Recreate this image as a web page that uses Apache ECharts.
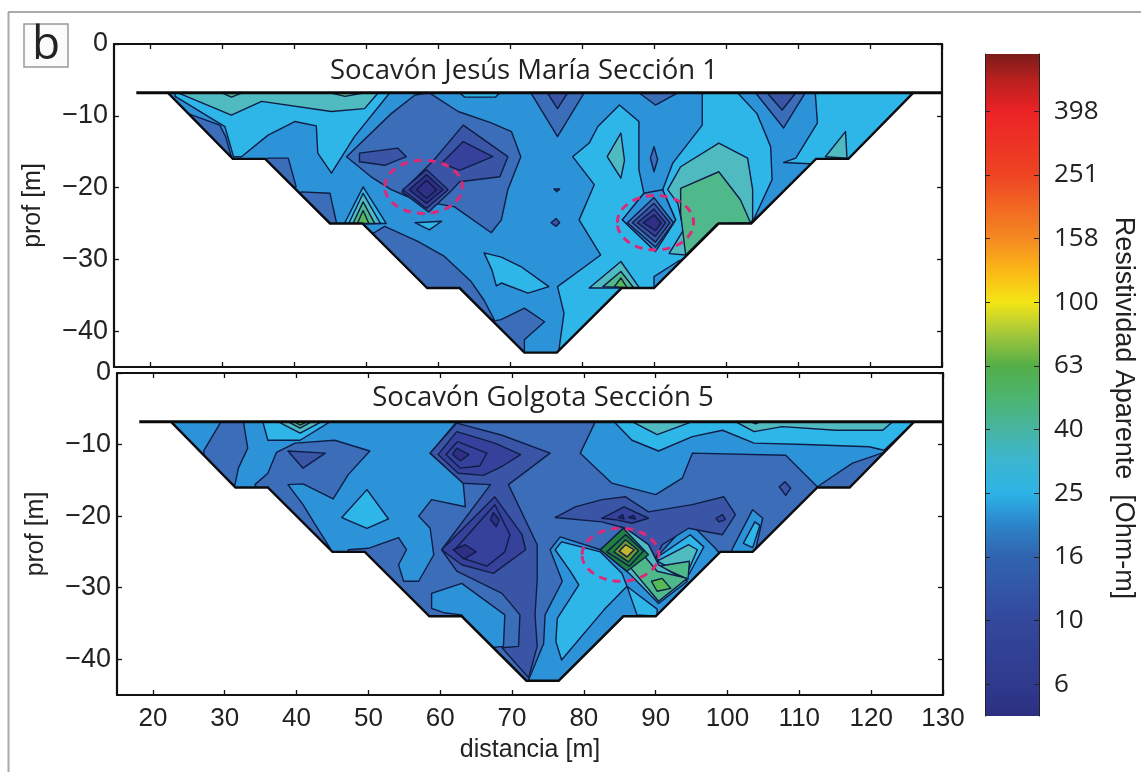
<!DOCTYPE html>
<html><head><meta charset="utf-8">
<style>html,body{margin:0;padding:0;background:#fff}#c{width:1141px;height:772px}</style>
<script src="https://cdn.jsdelivr.net/npm/echarts@6/dist/echarts.min.js"></script>
</head><body><div id="c"></div>
<script>
const distanceTicks=[20,30,40,50,60,70,80,90,100,110,120,130];
const depthTicks=[0,-10,-20,-30,-40];
const colorbarTicks=[6.31,10,15.85,25.12,39.81,63.1,100,158.5,251.2,398.1];
const colorbarLabels=['6','10','16','25','40','63','100','158','251','398'];
const colorbarValues=[5,6.3,10,16,20,25,32,40,50,63,80,100,125,158,251,398,500,603];
const colorbarColors=['#2c2f80','#2f3a8e','#33489c','#3165b0','#2c85c9','#2cb3e6','#3cb6cf','#47b5a0','#4bb570','#53ae48','#a6c83a','#f3e516','#fbb816','#f58a22','#ee4423','#ec2226','#b8201f','#7c1c19'];
const levelColors=['#2e2f85','#35419a','#3a55a6','#3b6db8','#2d93d9','#2fb6e8','#4fbbc0','#50b98c','#56b957','#1f8040','#6f9a2e','#c2b530'];
const surfaceDepth=-6.8;
const profile=[[22.5,-6.8],[31.5,-16],[36,-16],[45,-25],[49.5,-25],[58.5,-34],[63,-34],[72,-43],[76.5,-43],[85.5,-34],[90,-34],[99,-25],[103.5,-25],[112.5,-16],[117,-16],[126,-6.8]];
const section1Anomalies=[[58,-19.9,5.4,3.7],[90.2,-24.9,5.3,3.8]];
const section5Anomalies=[[85.1,-25.4,5.35,3.7]];

const section1Bands=[
[5,[[23.5,-6.8],[53.3,-6.8],[48.4,-12.9],[45.2,-18],[43.3,-15.2],[43.1,-11.4],[40.1,-10.8],[36.4,-12.7],[32.7,-15.7],[31.6,-15.7],[30.4,-11.5],[23.5,-7.3]]],
[3,[[25.3,-9.7],[29.7,-11.3],[30.5,-12.9],[31.3,-15.7],[30,-17],[25,-12]]],
[6,[[23.9,-6.8],[31.3,-9.9],[35.5,-8],[45.2,-9.4],[49.8,-9],[51.7,-6.8]]],
[7,[[30,-6.8],[31.3,-7.4],[32.8,-6.8]]],
[7,[[45,-6.8],[47.1,-7.3],[49.8,-6.8]]],
[3,[[36.4,-15.9],[39.2,-15.9],[40.3,-19.9],[38,-20],[35,-17]]],
[3,[[41,-20.6],[45,-20.8],[45.9,-24.9],[45,-26],[40,-22]]],
[5,[[49.6,-19.9],[52.8,-25],[47,-25]]],
[6,[[49.6,-20.8],[52,-25],[47.6,-25]]],
[7,[[49.6,-22],[51.2,-25],[48.2,-25]]],
[8,[[49.6,-23.2],[50.4,-25],[48.8,-25]]],
[3,[[47.3,-15.7],[53.5,-9.7],[56.8,-7.1],[58.8,-6.8],[62.8,-9.4],[67.4,-11],[70.2,-12.2],[71.5,-15.7],[69.7,-20.3],[68.8,-24.5],[67.4,-26.3],[62.3,-22.7],[56.8,-21.7],[53.5,-20.3],[50.7,-18.5]]],
[2,[[63.5,-11.3],[69.7,-15.7],[68.6,-18.5],[63,-19.2],[61.7,-20.6],[58.7,-23.4],[55,-20.6],[59.4,-16.2]]],
[1,[[63.5,-13.6],[67.6,-15.7],[63,-17.6],[60.5,-16.6]]],
[2,[[49.1,-15.2],[54.4,-14.5],[55.6,-15.7],[52.6,-16.9],[49.1,-16.4]]],
[1,[[55.1,-20.3],[58.4,-17.5],[61.4,-20.3],[58.4,-22.9]]],
[0,[[56,-20.3],[58.4,-18.2],[60.7,-20.3],[58.4,-22.2]]],
[0,[[57,-20.3],[58.4,-19],[59.8,-20.3],[58.4,-21.5]]],
[5,[[56.8,-24.9],[60.5,-24.7],[58.8,-25.9]]],
[3,[[52.6,-25.4],[57.2,-27.5],[60.9,-29.6],[64.6,-33.1],[66.4,-35.7],[67.8,-38.4],[60,-38.4],[45,-30]]],
[5,[[66.4,-29.1],[68.8,-29.7],[71.5,-31],[75.4,-33.8],[72.5,-34.7],[68.8,-33.3],[68.1,-33.7],[67.5,-31.5]]],
[3,[[68.75,-38.4],[72,-36.8],[74.8,-38.7],[72,-41.2],[72,-43.5],[60,-40]]],
[5,[[63,-6.8],[63.7,-7.4],[68,-7.4],[68.6,-6.8]]],
[5,[[96.7,-6.8],[101.6,-6.8],[104.3,-9.7],[106.2,-14.3],[106.4,-18.9],[103.9,-24.3],[95,-36],[85,-44],[76.6,-44],[77.5,-37.5],[76.6,-33.8],[82.6,-29.4],[79.6,-24.5],[81.7,-19.6],[78.7,-15.7],[81,-13.8],[82.2,-11.5],[85.2,-8.5],[87.9,-10.8],[87.9,-17.5],[88.6,-20.8],[85.6,-24.5],[90.2,-28.9],[93,-24.5],[91.2,-20.3],[92.6,-16.6],[96.7,-11.3]]],
[4,[[85.6,-24.5],[88.6,-20.8],[91.2,-20.3],[93,-24.5],[90.2,-28.9]]],
[6,[[91.9,-20.3],[93.7,-17.1],[99,-13.8],[103,-15.9],[103.7,-20.3],[103.7,-24.5],[100,-30],[95,-32],[94.4,-29.4],[92.1,-29.2],[94.1,-25.9],[93.3,-22.2]]],
[7,[[93.7,-20.1],[99,-17.8],[102,-21.7],[103.4,-24.9],[98.8,-25],[94.4,-29.4],[93.7,-23.6]]],
[4,[[90,-34],[90,-32.4],[93.3,-30.3],[94,-30],[95,-33]]],
[3,[[86.3,-24.9],[90,-21.4],[92.7,-24.9],[90.2,-28.3]]],
[2,[[87,-24.9],[90,-22.2],[92.2,-24.9],[90.2,-27.6]]],
[1,[[87.7,-24.9],[90,-23],[91.6,-24.9],[90.2,-26.8]]],
[0,[[88.5,-24.9],[90,-23.8],[91,-24.9],[90.2,-26]]],
[3,[[89.5,-15.9],[90,-14.3],[90.5,-16.1],[90,-17.8]]],
[2,[[76.1,-20.2],[76.9,-20.2],[76.5,-20.6]]],
[2,[[75.7,-24.9],[76.4,-24.3],[76.9,-24.9],[76.4,-25.4]]],
[6,[[83.5,-15.7],[85.4,-12.4],[85.9,-16.2],[85.4,-18.7]]],
[3,[[72.9,-6.8],[76.6,-12.9],[80.3,-6.8]]],
[2,[[75.2,-6.8],[76.6,-9],[78,-6.8]]],
[3,[[87.9,-6.8],[90.2,-8.5],[93.3,-6.8]]],
[3,[[104.1,-6.8],[108,-11.7],[111,-6.8]]],
[2,[[105.7,-6.8],[107.8,-9.2],[109.7,-6.8]]],
[5,[[112.4,-6.8],[127,-6.8],[118,-17],[108,-16.5],[109.7,-15.9],[112.7,-11]]],
[6,[[113.8,-15.7],[116.6,-12.2],[116.8,-15.9]]],
[6,[[81,-34],[85.4,-30.3],[88,-34]]],
[7,[[82.9,-33.8],[85.4,-31.7],[87.2,-34]]],
[8,[[84.5,-33.8],[85.4,-32.6],[86.3,-34]]]
];

const section5Bands=[
[3,[[29.5,-6.8],[32.6,-6.8],[33.2,-10.5],[31.9,-13.3],[31.4,-15.7],[27,-15],[27.1,-10.8]]],
[5,[[35.3,-6.8],[36,-9.4],[40.5,-9.4],[44.7,-6.8]]],
[6,[[37.4,-6.8],[40.5,-8.4],[43.5,-6.8]]],
[7,[[38.8,-6.8],[40.5,-7.7],[42.1,-6.8]]],
[8,[[39.7,-6.8],[40.5,-7.3],[41.5,-6.8]]],
[3,[[34.2,-15.6],[36,-14],[37.2,-11.1],[39.8,-9.8],[45.3,-9.4],[50.2,-10.9],[47.2,-14.2],[45.1,-17.6],[40.9,-15.5],[38.8,-15.6],[40.9,-18.4],[42.6,-21.2],[44.7,-24.5],[44,-28],[36,-19]]],
[2,[[38.8,-10.9],[44,-11.2],[40.9,-13.3]]],
[5,[[46.3,-20.2],[49.8,-16.3],[52.8,-20.4],[49.8,-21.7]]],
[3,[[62.3,-6.8],[81.6,-6.8],[79.5,-11.2],[83.9,-15.4],[90,-17],[93.7,-14.7],[95.1,-11.2],[108.1,-11.5],[112.5,-15.9],[110,-22],[100,-32],[85,-44],[70,-44],[60,-36],[47.2,-26],[47.2,-24.7],[50,-24.5],[54.2,-23],[55.3,-24.7],[54.2,-26.8],[54.9,-29.1],[57,-29.1],[59.1,-25.4],[58.6,-21.7],[57,-20],[58.8,-17.7],[63.5,-18.7],[63.2,-15.4],[58.6,-11.2]]],
[2,[[62.3,-7],[68.6,-8.7],[75.3,-11.2],[69.5,-15.6],[73.5,-24],[73.5,-28.9],[73.2,-33.8],[73.5,-38.2],[72.3,-42.6],[68.6,-38.4],[70.9,-38.2],[71.1,-33.8],[68.6,-30.8],[62.3,-27.7],[60.2,-24.7],[67,-15.6],[63.2,-15.4],[58.6,-11.2]]],
[1,[[62.3,-8.2],[67.6,-9.8],[71.2,-11.4],[68.7,-13],[66,-14.3],[62.5,-14],[59.7,-11.4]]],
[1,[[62.4,-9.6],[66.5,-11.2],[65.5,-13],[62.8,-13.3],[60.8,-11.4]]],
[0,[[62.3,-10.5],[64,-11.4],[62.8,-12.3],[61.7,-11.4]]],
[1,[[67.6,-17.3],[71.4,-22.6],[71.9,-24.7],[67.4,-28],[63,-26.8],[60.2,-24.7]]],
[1,[[67.6,-18.4],[69.7,-22.6],[69,-25],[66.5,-27],[63.5,-26],[62,-24.7]]],
[0,[[61.8,-24.7],[63.5,-24],[65,-25],[63.3,-26]]],
[0,[[67.4,-19.5],[68.2,-20.5],[67.8,-21.5],[67,-20.5]]],
[4,[[58.8,-30.8],[63,-29.4],[69,-33.8],[68.8,-38.2],[66,-38.5],[63,-33.8],[60.5,-33.5],[58.8,-32.9]]],
[4,[[72.3,-42.9],[74.4,-37.8],[74.6,-33.8],[77,-29.1],[75.3,-24.7],[76.7,-22.9],[82.3,-24.7],[85.5,-21.7],[90,-25.9],[94.6,-20.8],[98.3,-24.5],[99.5,-26],[90,-36],[77,-45],[72.3,-45]]],
[5,[[76.9,-23.6],[82.3,-25],[85.3,-28],[86,-29.8],[82.8,-33.1],[76.9,-40.1],[76.1,-37.5],[76.3,-34.3],[79.3,-29.6],[78.1,-27.7],[76,-24.7]]],
[5,[[86,-29.8],[87.4,-33.8],[90.2,-34],[90.2,-33],[86.9,-30.5]]],
[2,[[76,-20.2],[78.8,-18.7],[82.5,-17.7],[85.8,-17.3],[89,-19.4],[95.1,-18.4],[99.5,-17.3],[101.1,-19.8],[99.3,-22.6],[94.6,-21.7],[90.9,-24],[90,-25.9],[89,-24],[85.8,-21.7],[82.5,-20.8]]],
[1,[[82.5,-20.3],[85.6,-18.7],[89,-20.3],[86.7,-21],[84.4,-20.5]]],
[0,[[84.8,-20.2],[85.4,-19.8],[85.6,-20.4]]],
[0,[[86.2,-20.2],[86.9,-19.9],[87.2,-20.4]]],
[1,[[98.4,-20.3],[99.3,-19.8],[99.7,-20.5],[98.8,-20.8]]],
[2,[[107.2,-15.9],[108,-15.2],[108.8,-16.1],[108.1,-17.1]]],
[5,[[90,-25.9],[94.8,-22.6],[96.7,-24.3],[94.6,-28.2]]],
[6,[[90.2,-26.3],[94.6,-24],[95.8,-24.7],[94.2,-28.4]]],
[7,[[90.4,-27],[94.7,-26.3],[94.5,-28.8]]],
[6,[[82.3,-24.7],[85.8,-21.7],[89,-24],[90.4,-26.8],[94.4,-29.1],[90.4,-32.2],[86.3,-28]]],
[7,[[86,-26.6],[88.1,-25.2],[90.2,-27.7],[94.4,-28.7],[90.4,-31.9]]],
[8,[[89.4,-29.1],[90.9,-28.7],[92.1,-30.1],[90.2,-30.5]]],
[9,[[82.3,-24.7],[85.5,-21.7],[89,-25.4],[86,-27.7]]],
[9,[[83.2,-25],[85.8,-22.6],[88.3,-24.9],[86.3,-27]]],
[10,[[84.2,-25],[85.8,-23.3],[87.6,-24.8],[86.2,-26.4]]],
[11,[[84.9,-24.9],[85.8,-24],[87,-24.7],[86,-25.7]]],
[4,[[100.7,-24.5],[103.5,-19.1],[104.9,-20.3],[103.9,-24.7],[100,-27]]],
[5,[[102.2,-23.8],[103.8,-20.8],[104.5,-21.3],[103.5,-24.4]]],
[5,[[84.2,-6.8],[86.7,-9.4],[90.4,-10.9],[95.1,-8.9],[99.3,-8],[103.7,-9.8],[110.9,-10],[119.7,-10.3],[121.8,-10.8],[126,-6.8]]],
[6,[[86.7,-6.8],[90.2,-8.6],[95.1,-6.8]]],
[6,[[101.1,-6.8],[103.7,-8.2],[107.6,-7.5],[115.1,-8],[121.6,-8],[123,-6.8]]],
[7,[[103.2,-6.8],[103.9,-7.1],[104.6,-6.8]]],
[3,[[112.5,-15.9],[117.4,-12.6],[121.8,-11.1],[122,-14],[118,-18]]]
];

function sectionRenderer(bands,anoms){
  const outside=profile.concat([[130,surfaceDepth],[130,-45],[15,-45],[15,surfaceDepth]]);
  const items=[{k:'poly',pts:profile,fill:levelColors[4],line:false}];
  bands.forEach(b=>items.push({k:'poly',pts:b[1],fill:levelColors[b[0]],line:true}));
  items.push({k:'poly',pts:outside,fill:'#fff',line:false});
  items.push({k:'edge'});
  items.push({k:'top'});
  anoms.forEach(a=>items.push({k:'ell',a:a}));
  return {items,render(params,api){
    const it=items[params.dataIndex];
    if(it.k==='poly'){
      return {type:'polygon',shape:{points:it.pts.map(p=>api.coord(p))},
        style:{fill:it.fill,stroke:it.line?'#0f1d45':null,lineWidth:it.line?1.4:0,lineJoin:'round'}};
    }
    if(it.k==='edge'){
      return {type:'polyline',shape:{points:profile.map(p=>api.coord(p))},style:{fill:null,stroke:'#0c0c10',lineWidth:2.4}};
    }
    if(it.k==='top'){
      return {type:'line',shape:(function(){const a=api.coord([18.1,surfaceDepth]),b=api.coord([130,surfaceDepth]);return {x1:a[0],y1:a[1],x2:b[0],y2:b[1]};})(),style:{stroke:'#0a0a0a',lineWidth:3}};
    }
    const c=api.coord([it.a[0],it.a[1]]),s=api.size([it.a[2],it.a[3]]);
    return {type:'ellipse',shape:{cx:c[0],cy:c[1],rx:s[0],ry:s[1]},style:{fill:null,stroke:'#dc2a78',lineWidth:3,lineDash:[8,6]}};
  }};
}
const r1=sectionRenderer(section1Bands,section1Anomalies);
const r5=sectionRenderer(section5Bands,section5Anomalies);

const fontFam='"Liberation Sans"';
const tickLine={lineStyle:{color:'#111',width:1.3},length:5,inside:true};
const frame={show:true,onZero:false,lineStyle:{color:'#111',width:2.2}};
function xA(grid,pos,labels){return {type:'value',gridIndex:grid,position:pos,min:15,max:130,z:6,
  axisLine:frame,splitLine:{show:false},
  axisTick:Object.assign({show:true,customValues:distanceTicks},tickLine),
  axisLabel:labels?{show:true,customValues:distanceTicks,fontFamily:fontFam,fontSize:26,color:'#222',margin:11,showMinLabel:true,showMaxLabel:true,hideOverlap:false}:{show:false}};}
function yA(grid,pos,labels){return {type:'value',gridIndex:grid,position:pos,min:-45,max:0,z:6,
  axisLine:frame,splitLine:{show:false},
  axisTick:Object.assign({show:true,customValues:depthTicks},tickLine),
  name:labels?'prof [m]':'',nameLocation:'middle',nameGap:68,nameRotate:90,
  nameTextStyle:{fontFamily:fontFam,fontSize:25,color:'#222'},
  axisLabel:labels?{show:true,customValues:depthTicks,fontFamily:fontFam,fontSize:27,color:'#222',margin:6,showMinLabel:true,showMaxLabel:true,hideOverlap:false,
    formatter:v=>String(v).replace('-','\u2212')}:{show:false}};}
const logTicks=colorbarTicks.map(v=>Math.log10(v));
const chart=echarts.init(document.getElementById('c'),null,{renderer:'canvas',width:1141,height:772});
chart.setOption({
  animation:false,backgroundColor:'#fff',
  grid:[
    {left:114,top:44,width:828,height:323},
    {left:117,top:373,width:826,height:322},
    {left:985,top:54,width:54,height:662}
  ],
  xAxis:[xA(0,'bottom',false),xA(0,'top',false),
    Object.assign(xA(1,'bottom',true),{name:'distancia [m]',nameLocation:'middle',nameGap:43,nameTextStyle:{fontFamily:fontFam,fontSize:25,color:'#222'}}),xA(1,'top',false),
    {type:'value',gridIndex:2,min:0,max:1,show:false}],
  yAxis:[yA(0,'left',true),yA(0,'right',false),yA(1,'left',true),yA(1,'right',false),
    {type:'value',gridIndex:2,position:'left',min:0.7,max:2.78,z:6,splitLine:{show:false},axisLine:{show:true,lineStyle:{color:'#222',width:1}},
      axisTick:{show:true,inside:true,length:5,customValues:logTicks,lineStyle:{color:'#222',width:1}},axisLabel:{show:false}},
    {type:'value',gridIndex:2,position:'right',min:0.7,max:2.78,z:6,splitLine:{show:false},axisLine:{show:true,lineStyle:{color:'#222',width:1}},
      axisTick:{show:true,inside:true,length:5,customValues:logTicks,lineStyle:{color:'#222',width:1}},
      axisLabel:{show:true,customValues:logTicks,margin:15,fontFamily:'"Open Sans"',fontSize:26,color:'#222',padding:[0,0,7,0],hideOverlap:false,
        formatter:v=>{const i=logTicks.findIndex(t=>Math.abs(t-v)<1e-6);return i<0?'':colorbarLabels[i];}}}],
  title:[
    {text:'Socav\u00f3n Jes\u00fas Mar\u00eda Secci\u00f3n 1',left:519,top:52,textAlign:'center',textStyle:{fontFamily:'"Open Sans"',fontSize:27.5,fontWeight:'normal',color:'#222'}},
    {text:'Socav\u00f3n Golgota Secci\u00f3n 5',left:538,top:379,textAlign:'center',textStyle:{fontFamily:'"Open Sans"',fontSize:27.5,fontWeight:'normal',color:'#222'}}
  ],
  series:[
    {type:'custom',coordinateSystem:'cartesian2d',xAxisIndex:0,yAxisIndex:0,z:2,clip:false,silent:true,renderItem:r1.render,data:r1.items.map(()=>[20,-10])},
    {type:'custom',coordinateSystem:'cartesian2d',xAxisIndex:2,yAxisIndex:2,z:2,clip:false,silent:true,renderItem:r5.render,data:r5.items.map(()=>[20,-10])},
    {type:'custom',coordinateSystem:'cartesian2d',xAxisIndex:4,yAxisIndex:4,z:2,clip:false,silent:true,data:[[0,0.7]],
      renderItem(params,api){
        const a=api.coord([0,0.7]),b=api.coord([1,2.78]);
        const lo=Math.log10(colorbarValues[0]),hi=Math.log10(colorbarValues[colorbarValues.length-1]);
        return {type:'rect',shape:{x:a[0],y:b[1],width:b[0]-a[0],height:a[1]-b[1]},
          style:{fill:{type:'linear',x:0,y:1,x2:0,y2:0,colorStops:colorbarValues.map((v,i)=>({offset:(Math.log10(v)-lo)/(hi-lo),color:colorbarColors[i]}))}}};
      }}
  ],
  graphic:[
    {type:'line',shape:{x1:8.5,y1:12,x2:8.5,y2:772},style:{stroke:'#aaa',lineWidth:2},z:1},
    {type:'line',shape:{x1:8,y1:12,x2:1141,y2:12},style:{stroke:'#aaa',lineWidth:2},z:1},
    {type:'rect',shape:{x:24,y:24,width:44,height:43},style:{fill:'#fbfbfb',stroke:'#999',lineWidth:1.5},z:1},
    {type:'text',x:46,y:46,style:{text:'b',fontFamily:'"Open Sans"',fontSize:46,fill:'#222',align:'center',verticalAlign:'middle'},z:2},
    {type:'text',x:1123,y:408,rotation:-Math.PI/2,style:{text:'Resistividad Aparente  [Ohm-m]',fontFamily:fontFam,fontSize:27,fill:'#222',align:'center',verticalAlign:'middle'},z:2}
  ]
});
</script></body></html>
